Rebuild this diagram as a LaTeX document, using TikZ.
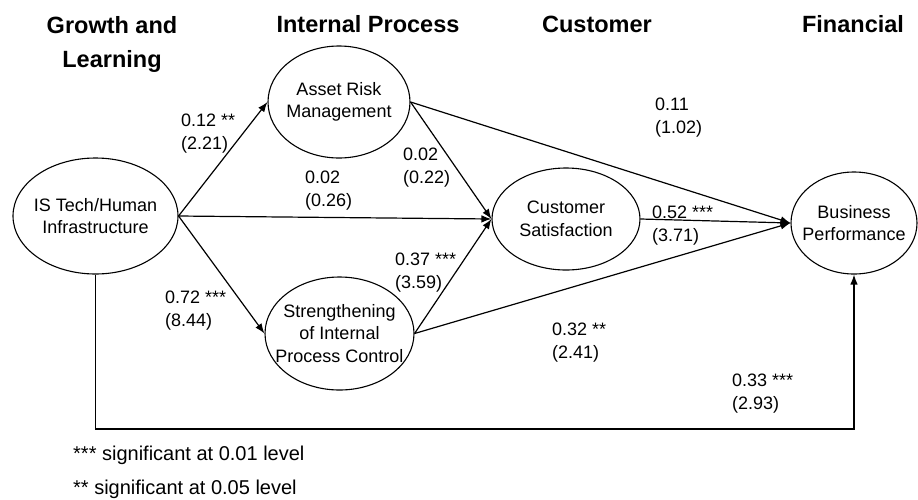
\documentclass[tikz,border=0pt]{standalone}
\usepackage{fontspec}
\setmainfont{Liberation Sans}
\usetikzlibrary{shapes.geometric,arrows.meta,calc}
\begin{document}
\begin{tikzpicture}[x=1pt,y=-1pt,
  oval/.style={draw,ellipse,line width=1.1pt,inner sep=-30pt,align=center,
    font=\fontsize{18}{22.5}\selectfont},
  arr/.style={line width=1.2pt,-{Latex[length=10pt,width=7.5pt]}},
  head/.style={font=\fontsize{23.5}{34}\selectfont\bfseries,align=center},
  lab/.style={font=\fontsize{18}{23}\selectfont,align=left,anchor=base west,inner sep=0pt},
  note/.style={font=\fontsize{20}{24}\selectfont,anchor=base west,inner sep=0pt}]
\useasboundingbox (0,0) rectangle (918,499);
% headings
\node[head] (h1) at (112,44) {Growth and\\Learning};
\node[head,anchor=base] (h2) at (368,32) {Internal Process};
\node[head,anchor=base] (h3) at (597,32) {Customer};
\node[head,anchor=base] (h4) at (853,32) {Financial};
% ellipses
\node[oval,minimum width=165pt,minimum height=116pt] (IS) at (95.5,216) {IS Tech/Human\\Infrastructure};
\node[oval,minimum width=142pt,minimum height=112pt] (AR) at (339,102) {Asset Risk\\Management};
\node[oval,minimum width=149pt,minimum height=113pt] (SI) at (339.5,333.5) {Strengthening\\of Internal\\Process Control};
\node[oval,minimum width=148pt,minimum height=102pt] (CS) at (566,219) {Customer\\Satisfaction};
\node[oval,minimum width=126pt,minimum height=102pt] (BP) at (854,223) {Business\\Performance};
% connectors
\draw[arr] (IS.east) -- (AR.west);
\draw[arr] (IS.east) -- (SI.west);
\draw[arr] (IS.east) -- (CS.west);
\draw[arr] (AR.east) -- (CS.west);
\draw[arr] (AR.east) -- (BP.west);
\draw[arr] (SI.east) -- (CS.west);
\draw[arr] (SI.east) -- (BP.west);
\draw[arr] (CS.east) -- (BP.west);
\coordinate (base) at (0,429);
\draw[arr] (IS.south) -- (IS.south |- base) -| (BP.south);
% labels (anchor = baseline of last line)
\node[lab] (l1) at (181,149.5) {0.12 **\\(2.21)};
\node[lab] (l2) at (305,206.5) {0.02\\(0.26)};
\node[lab] (l3) at (403,183.5) {0.02\\(0.22)};
\node[lab] (l4) at (655,133.5) {0.11\\(1.02)};
\node[lab] (l5) at (652,241.5) {0.52 ***\\(3.71)};
\node[lab] (l6) at (395,288.5) {0.37 ***\\(3.59)};
\node[lab] (l7) at (165,326.5) {0.72 ***\\(8.44)};
\node[lab] (l8) at (552,358.5) {0.32 **\\(2.41)};
\node[lab] (l9) at (732,409.5) {0.33 ***\\(2.93)};
% notes
\node[note] (n1) at (73,460) {*** significant at 0.01 level};
\node[note] (n2) at (73,494) {** significant at 0.05 level};
\end{tikzpicture}
\end{document}
